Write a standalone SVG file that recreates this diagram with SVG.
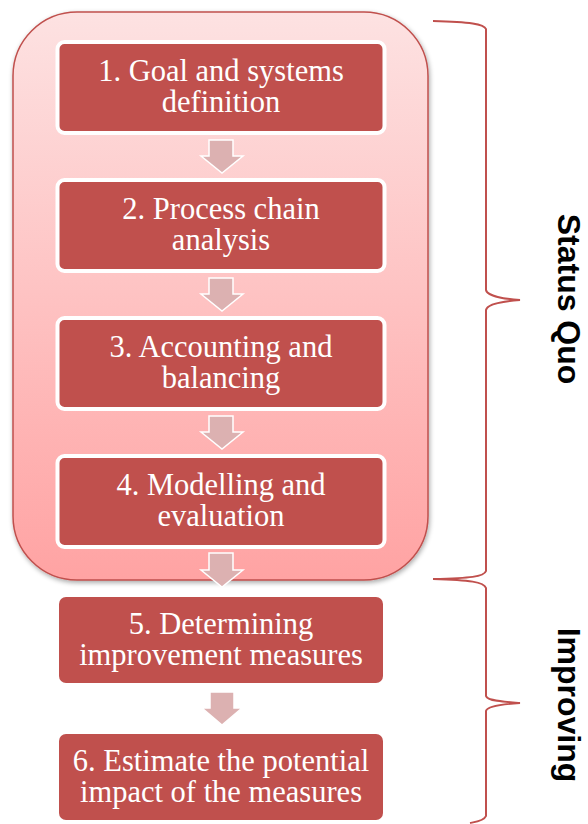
<svg xmlns="http://www.w3.org/2000/svg" width="588" height="824" viewBox="0 0 588 824">
<defs>
<linearGradient id="bg" x1="0" y1="0" x2="0" y2="1">
<stop offset="0" stop-color="#fde2e2"/>
<stop offset="1" stop-color="#ffa3a3"/>
</linearGradient>
<filter id="sh" x="-10%" y="-10%" width="120%" height="120%">
<feGaussianBlur in="SourceAlpha" stdDeviation="2.5"/>
<feOffset dx="1" dy="2"/>
<feComponentTransfer><feFuncA type="linear" slope="0.35"/></feComponentTransfer>
<feMerge><feMergeNode/><feMergeNode in="SourceGraphic"/></feMerge>
</filter>
</defs>
<style>
.box{fill:#c0504d;stroke:#fff;stroke-width:4}
.box2{fill:#c0504d}
.t{font-family:"Liberation Serif",serif;font-size:30.5px;fill:#fff;text-anchor:middle}
.arr{fill:#dcb1b1;stroke:#fff;stroke-width:1.5}
.br{fill:none;stroke:#c0504d;stroke-width:2}
.lab{font-family:"Liberation Sans",Arial,sans-serif;font-weight:bold;font-size:32px;fill:#000;text-anchor:middle}
</style>
<g id="container">
<rect x="13" y="12" width="415" height="568" rx="64" fill="url(#bg)" stroke="#c0504d" stroke-width="1.5" filter="url(#sh)"/>
</g>
<g id="n1">
<rect class="box" x="57.5" y="42" width="327" height="91" rx="7"/>
<text class="t" x="221" y="81">1. Goal and systems</text>
<text class="t" x="221" y="112">definition</text>
</g>
<g id="n2">
<rect class="box" x="57.5" y="180" width="327" height="91" rx="7"/>
<text class="t" x="221" y="219">2. Process chain</text>
<text class="t" x="221" y="250">analysis</text>
</g>
<g id="n3">
<rect class="box" x="57.5" y="318" width="327" height="91" rx="7"/>
<text class="t" x="221" y="357">3. Accounting and</text>
<text class="t" x="221" y="388">balancing</text>
</g>
<g id="n4">
<rect class="box" x="57.5" y="456" width="327" height="91" rx="7"/>
<text class="t" x="221" y="495">4. Modelling and</text>
<text class="t" x="221" y="526">evaluation</text>
</g>
<g id="n5">
<rect class="box2" x="59" y="597" width="324" height="86" rx="7"/>
<text class="t" x="221" y="634">5. Determining</text>
<text class="t" x="221" y="665">improvement measures</text>
</g>
<g id="n6">
<rect class="box2" x="59" y="734" width="324" height="86" rx="7"/>
<text class="t" x="221" y="771">6. Estimate the potential</text>
<text class="t" x="221" y="802">impact of the measures</text>
</g>
<g id="connectors">
<path class="arr" d="M209,140 H233 V156 H243 L222,173 L201,156 H209 Z"/>
<path class="arr" d="M209,278 H233 V294 H243 L222,311 L201,294 H209 Z"/>
<path class="arr" d="M209,416 H233 V432 H243 L222,449 L201,432 H209 Z"/>
<path class="arr" d="M209,553 H233 V570 H243 L222,587 L201,570 H209 Z"/>
<path class="arr" d="M210,692 H234 V708 H242 L222,725 L202,708 H210 Z"/>
</g>
<g id="braces">
<path class="br" d="M433,21 C470,22 484,24 486,29 V290 C487,296 505,299 520,300 C505,301 487,304 486,310 V571 C484,577 470,578 433,579"/>
<path class="br" d="M433,579 C470,580 484,582 486,588 V696 C487,701 505,702 520,703 C505,704 487,706 486,711 V816 C484,821 475,822 470,823"/>
</g>
<g id="labels">
<text class="lab" transform="translate(558,299) rotate(90)">Status Quo</text>
<text class="lab" transform="translate(558,705) rotate(90)">Improving</text>
</g>
</svg>
